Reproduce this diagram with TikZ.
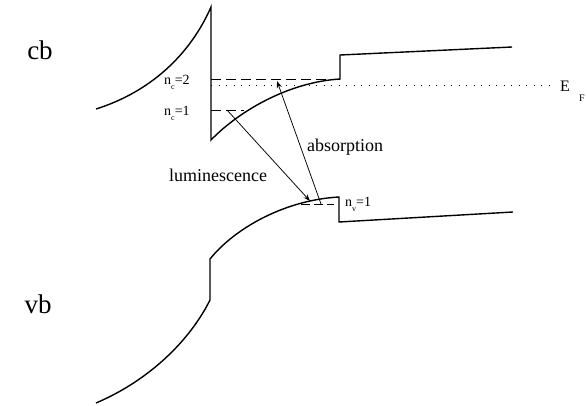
\documentclass[tikz,border=0pt]{standalone}
\usepackage{fontspec}
\setmainfont{Liberation Serif}
\usetikzlibrary{arrows.meta}
\newcommand\lsub[1]{\raisebox{-0.4em}{\fontsize{8}{9}\selectfont #1}}
\begin{document}
\begin{tikzpicture}[x=1pt,y=-1pt,
  band/.style={line width=1.4pt,line join=miter},
  level/.style={line width=0.7pt,dash pattern=on 10pt off 5pt},
  fermi/.style={line width=0.7pt,dash pattern=on 1pt off 6.5pt},
  trans/.style={line width=0.75pt,-{Stealth[length=7pt,width=5pt]}},
  big/.style={font=\fontsize{27}{30}\selectfont,inner sep=0pt},
  lab/.style={font=\fontsize{18}{21}\selectfont,inner sep=0pt},
  sml/.style={font=\fontsize{14}{16}\selectfont,inner sep=0pt}]
\useasboundingbox (0,0) rectangle (587,405);
% coordinates
\coordinate (cbL) at (96,109);
\coordinate (cbTop) at (211,7);
\coordinate (cbBot) at (211,140);
\coordinate (cbStepLo) at (340,79);
\coordinate (cbStepHi) at (340,55);
\coordinate (cbR) at (512,47);
\coordinate (vbL) at (96,403);
\coordinate (vbStepLo) at (210,300);
\coordinate (vbStepHi) at (210,259);
\coordinate (vbTop) at (339,197);
\coordinate (vbStepDn) at (339,222);
\coordinate (vbR) at (513,212);
% conduction band
\draw[band] (cbL) .. controls (150,92) and (190,55) .. (cbTop) -- (cbBot)
  .. controls (240,110) and (290,82) .. (cbStepLo) -- (cbStepHi) -- (cbR);
% valence band
\draw[band] (vbL) .. controls (150,380) and (190,340) .. (vbStepLo) -- (vbStepHi)
  .. controls (235,228) and (285,200) .. (vbTop) -- (vbStepDn) -- (vbR);
% levels
\coordinate (nc2a) at (211,79);
\coordinate (nc1a) at (211,110);
\coordinate (nc1b) at (244,110);
\coordinate (efa) at (211,85);
\coordinate (efb) at (556,85);
\coordinate (nv1a) at (301,204);
\coordinate (nv1b) at (334,204);
\draw[level] (nc2a) -- (cbStepLo);
\draw[level] (nc1a) -- (nc1b);
\draw[fermi] (efa) -- (efb);
\draw[line width=0.7pt,dash pattern=on 9pt off 4pt] (nv1a) -- (nv1b);
% transitions
\coordinate (lumA) at (227,110);
\coordinate (lumB) at (310,201);
\coordinate (absA) at (321,204);
\coordinate (absB) at (277,81);
\draw[trans] (lumA) -- (lumB);
\draw[trans] (absA) -- (absB);
% labels
\node[big] (cb) at (40,50) {cb};
\node[big] (vb) at (38,304) {vb};
\node[sml,anchor=base west] (nc2) at (164,84) {n\lsub{c}=2};
\node[sml,anchor=base west] (nc1) at (164,115) {n\lsub{c}=1};
\node[sml,anchor=base west] (nv1) at (345,206) {n\lsub{v}=1};
\node[lab,anchor=base west] (abs) at (307,151) {absorption};
\node[lab,anchor=base] (lum) at (218,181) {luminescence};
\node[font=\fontsize{16}{18}\selectfont,inner sep=0pt,anchor=base west] (E) at (560,91) {E};
\node[font=\fontsize{10}{11}\selectfont,inner sep=0pt,anchor=base west] (F) at (579,101) {F};
\end{tikzpicture}
\end{document}
